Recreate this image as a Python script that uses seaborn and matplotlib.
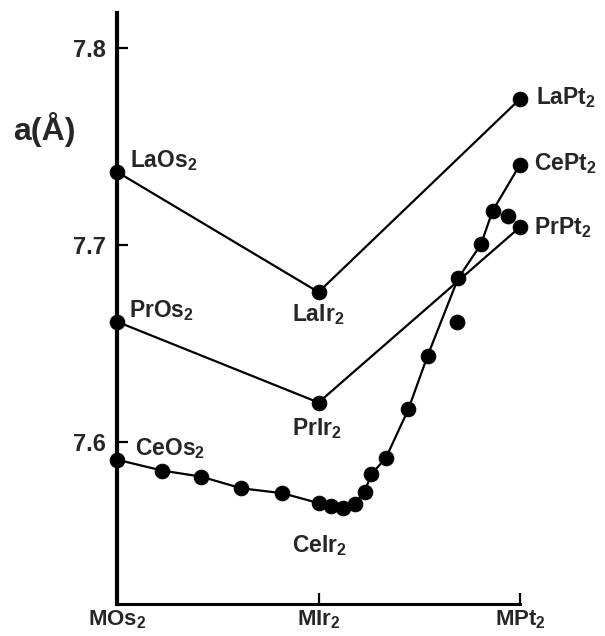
import numpy as np
import pandas as pd
import matplotlib
matplotlib.use('Agg')
import matplotlib.pyplot as plt
import seaborn as sns

# lattice constant a (Angstrom) vs composition  MOs2 (0) -> MIr2 (1) -> MPt2 (2)
la_x = [0, 1, 2]
la_a = [7.737, 7.676, 7.774]
pr_x = [0, 1, 2]
pr_a = [7.661, 7.620, 7.709]

ce_x = [0, 0.224, 0.418, 0.617, 0.821, 1.0, 1.063, 1.121, 1.179, 1.229,
        1.262, 1.335, 1.446, 1.541, 1.693, 1.806, 1.864, 2.0]
ce_a = [7.591, 7.5855, 7.5824, 7.5765, 7.574, 7.569, 7.5676, 7.5667, 7.5686,
        7.5748, 7.5836, 7.592, 7.6166, 7.6436, 7.683, 7.7002, 7.7172, 7.7407]
# Ce points lying off the drawn curve
ce_off_x = [1.687, 1.942]
ce_off_a = [7.661, 7.7145]

x_labels = [r'MOs$_2$', r'MIr$_2$', r'MPt$_2$']
y_ticks = [7.6, 7.7, 7.8]

# point labels: (text, x, a, dx px, dy px)
labels = [
    (r'LaOs$_2$', 0, 7.737, 13, 5),
    (r'PrOs$_2$', 0, 7.661, 12, 5),
    (r'CeOs$_2$', 0, 7.591, 18, 5),
    (r'LaIr$_2$', 1, 7.676, -27, -29),
    (r'PrIr$_2$', 1, 7.620, -27, -33),
    (r'CeIr$_2$', 1, 7.569, -27, -49),
    (r'LaPt$_2$', 2, 7.774, 16, -5),
    (r'CePt$_2$', 2, 7.7407, 14, -6),
    (r'PrPt$_2$', 2, 7.709, 14, -7),
]

sns.set_theme(style='ticks')
plt.rcParams['font.family'] = ['Liberation Sans', 'DejaVu Sans']
plt.rcParams['font.weight'] = 'bold'
plt.rcParams['mathtext.default'] = 'regular'

fig = plt.figure(figsize=(6.05, 6.36), dpi=100)
ax = fig.add_axes([117 / 605, 1 - 604 / 636, (520 - 117) / 605, (604 - 13) / 636])

line_kw = dict(color='black', linewidth=1.6, marker='o', markersize=10.5,
               markeredgecolor='black', markerfacecolor='black', clip_on=False)
sns.lineplot(x=la_x, y=la_a, ax=ax, **line_kw)
sns.lineplot(x=pr_x, y=pr_a, ax=ax, **line_kw)
sns.lineplot(x=ce_x, y=ce_a, ax=ax, **line_kw)
sns.scatterplot(x=ce_off_x, y=ce_off_a, ax=ax, color='black', s=110,
                edgecolor='black', clip_on=False, zorder=3)

for txt, x, a, dx, dy in labels:
    ax.annotate(txt, (x, a), xytext=(dx * 0.72, dy * 0.72),
                textcoords='offset points', ha='left', va='baseline',
                fontsize=16.5, fontweight='bold')

ax.set_xlim(0, 2)
ax.set_ylim(7.5178, 7.8176)
ax.set_xticks([0, 1, 2])
ax.set_xticklabels(x_labels, fontsize=16, fontweight='bold')
ax.set_yticks(y_ticks)
ax.set_yticklabels([f'{v:.1f}' for v in y_ticks], fontsize=17, fontweight='bold')
ax.tick_params(axis='both', direction='in', length=8, width=1.6, color='black')
ax.tick_params(axis='y', pad=8)
ax.tick_params(axis='x', pad=3)

sns.despine(ax=ax)
ax.spines['left'].set_linewidth(3.0)
ax.spines['bottom'].set_linewidth(2.2)
ax.spines['left'].set_color('black')
ax.spines['bottom'].set_color('black')
ax.set_xlabel('')
ax.set_ylabel('')

fig.text(13 / 605, 1 - 140 / 636, 'a(Å)', fontsize=23, fontweight='bold',
         ha='left', va='baseline')

fig.savefig('out.png', dpi=100, facecolor='white')
